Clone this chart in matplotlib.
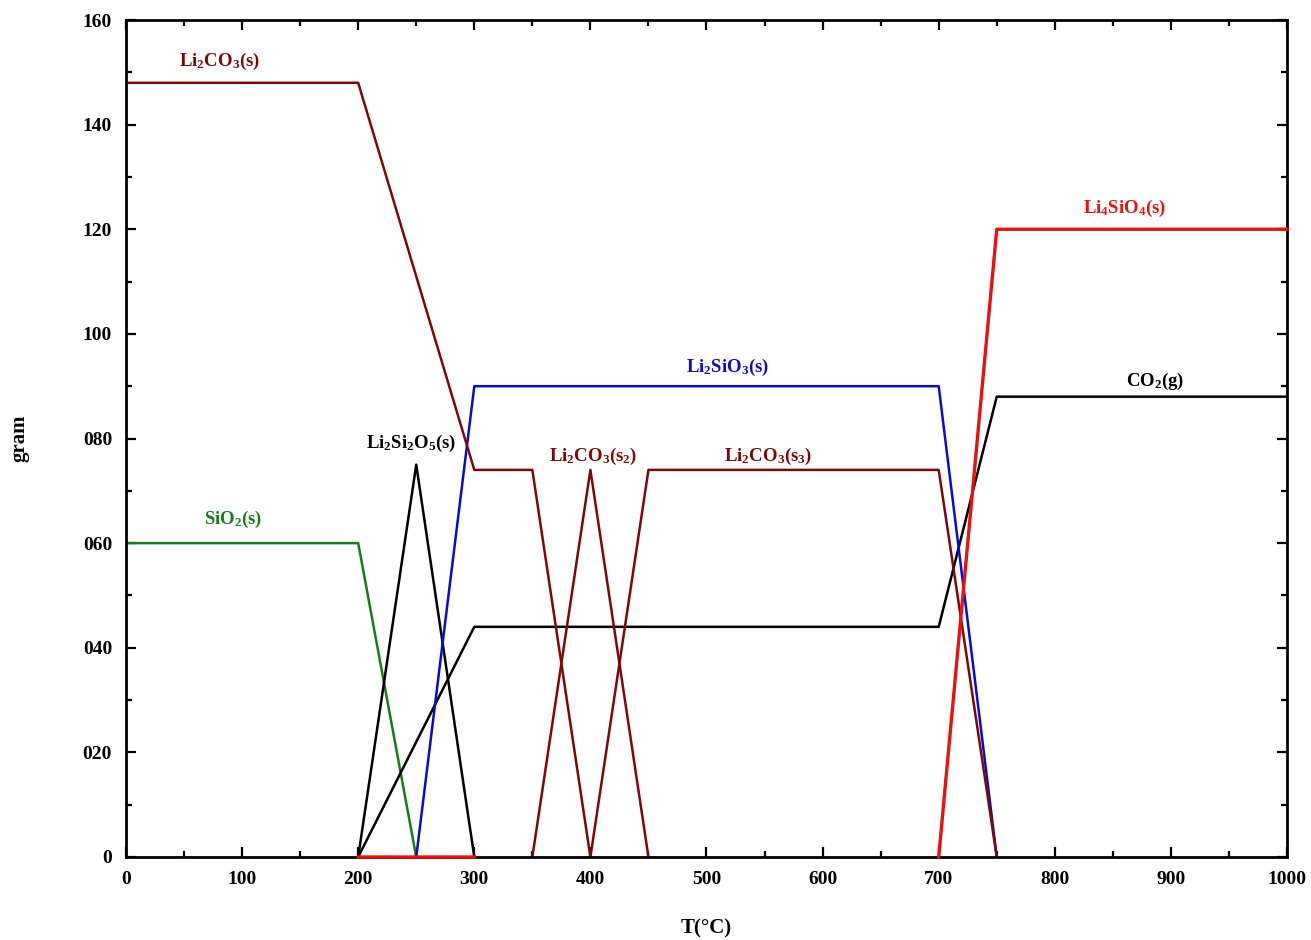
import matplotlib
matplotlib.use('Agg')
import matplotlib.pyplot as plt
from matplotlib.ticker import MultipleLocator, FixedLocator, FixedFormatter
import numpy as np

plt.rcParams['font.family'] = ['Liberation Serif', 'DejaVu Serif']
plt.rcParams['font.weight'] = 'bold'
plt.rcParams['axes.labelweight'] = 'bold'
plt.rcParams['mathtext.default'] = 'regular'

# temperature (C) and mass (gram) for each phase
T_li2co3 = [0, 200, 300, 350, 400]
m_li2co3 = [148, 148, 74, 74, 0]

T_li2co3_s2 = [350, 400, 450]
m_li2co3_s2 = [0, 74, 0]

T_li2co3_s3 = [400, 450, 700, 750]
m_li2co3_s3 = [0, 74, 74, 0]

T_sio2 = [0, 200, 250]
m_sio2 = [60, 60, 0]

T_li2si2o5 = [200, 250, 300]
m_li2si2o5 = [0, 75, 0]

T_li2sio3 = [250, 300, 700, 750]
m_li2sio3 = [0, 90, 90, 0]

T_li4sio4 = [200, 300, np.nan, 700, 750, 1000]
m_li4sio4 = [0, 0, np.nan, 0, 120, 120]

T_co2 = [200, 300, 700, 750, 1000]
m_co2 = [0, 44, 44, 88, 88]

ytick_vals = [0, 20, 40, 60, 80, 100, 120, 140, 160]
ytick_labels = ['0', '020', '040', '060', '080', '100', '120', '140', '160']

darkred = '#7a0a0a'
red = '#e81010'
blue = '#0a0ad0'
green = '#1a7a1a'
black = '#000000'

fig = plt.figure(figsize=(13.11, 9.40), dpi=100)
ax = fig.add_axes([0.0961, 0.0883, 0.8856, 0.8904])

lw = 1.8
ax.plot(T_sio2, m_sio2, color=green, lw=lw)
ax.plot(T_li2si2o5, m_li2si2o5, color=black, lw=lw)
ax.plot(T_co2, m_co2, color=black, lw=lw)
ax.plot(T_li2sio3, m_li2sio3, color=blue, lw=lw)
ax.plot(T_li2co3, m_li2co3, color=darkred, lw=lw)
ax.plot(T_li2co3_s2, m_li2co3_s2, color=darkred, lw=lw)
ax.plot(T_li2co3_s3, m_li2co3_s3, color=darkred, lw=lw)
# red drawn last so it sits over the bottom spine
ax.plot(T_li4sio4, m_li4sio4, color=red, lw=lw + 0.6, clip_on=False, zorder=5)

fs = 13.5
ax.text(81, 152, r'Li$_2$CO$_3$(s)', color=darkred, fontsize=fs, ha='center', va='center')
ax.text(860, 124, r'Li$_4$SiO$_4$(s)', color=red, fontsize=fs, ha='center', va='center')
ax.text(518, 93.5, r'Li$_2$SiO$_3$(s)', color=blue, fontsize=fs, ha='center', va='center')
ax.text(886, 91, r'CO$_2$(g)', color=black, fontsize=fs, ha='center', va='center')
ax.text(246, 79, r'Li$_2$Si$_2$O$_5$(s)', color=black, fontsize=fs, ha='center', va='center')
ax.text(402, 76.5, r'Li$_2$CO$_3$(s$_2$)', color=darkred, fontsize=fs, ha='center', va='center')
ax.text(553, 76.5, r'Li$_2$CO$_3$(s$_3$)', color=darkred, fontsize=fs, ha='center', va='center')
ax.text(92, 64.6, r'SiO$_2$(s)', color=green, fontsize=fs, ha='center', va='center')

ax.set_xlim(0, 1000)
ax.set_ylim(0, 160)
ax.xaxis.set_major_locator(MultipleLocator(100))
ax.xaxis.set_minor_locator(MultipleLocator(50))
ax.yaxis.set_major_locator(FixedLocator(ytick_vals))
ax.yaxis.set_major_formatter(FixedFormatter(ytick_labels))
ax.yaxis.set_minor_locator(MultipleLocator(10))
ax.tick_params(which='both', direction='in', top=True, right=True, width=1.6,
               labelsize=14)
ax.tick_params(which='major', length=7, pad=10)
ax.tick_params(which='minor', length=4)
for s in ax.spines.values():
    s.set_linewidth(2)

ax.set_xlabel('T(\u00b0C)', fontsize=15, labelpad=22)
ax.set_ylabel('gram', fontsize=15, labelpad=38)

fig.savefig('out.png', dpi=100)
